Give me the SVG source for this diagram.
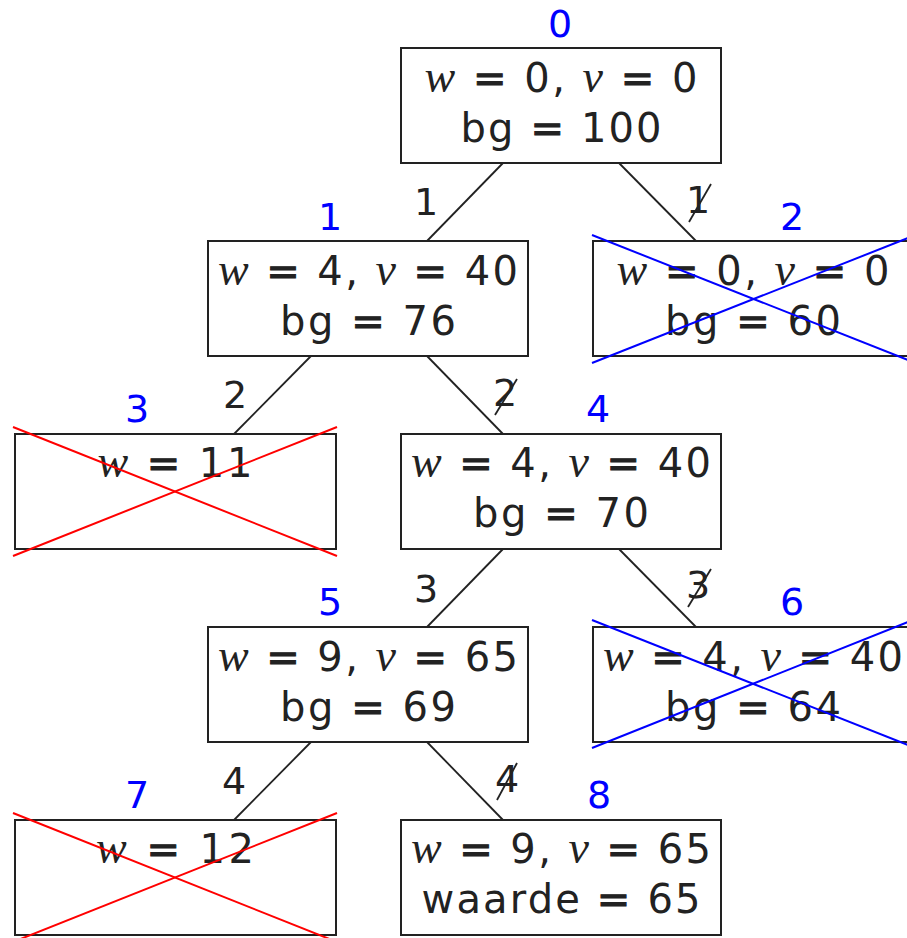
<svg xmlns="http://www.w3.org/2000/svg" width="907" height="938" viewBox="0 0 907 938">
<style>
  .box { fill: #ffffff; stroke: #222222; stroke-width: 2; }
  .t { font-family: "DejaVu Sans", "Liberation Sans", sans-serif; font-size: 40px; fill: #222222; text-anchor: middle; }
  .m { font-family: "Liberation Serif", "DejaVu Serif", serif; font-style: italic; font-size: 46px; }
  .eq { stroke: #222222; stroke-width: 1; }
  .id { font-family: "DejaVu Sans", "Liberation Sans", sans-serif; font-size: 38px; fill: #0000ff; text-anchor: middle; }
  .el { font-family: "DejaVu Sans", "Liberation Sans", sans-serif; font-size: 38px; fill: #222222; text-anchor: middle; }
  .edge { stroke: #222222; stroke-width: 1.8; fill: none; }
  .slash { stroke: #222222; stroke-width: 1.8; }
  .xr { stroke: #ff0000; stroke-width: 2; }
  .xb { stroke: #0000ff; stroke-width: 2; }
</style>
<rect width="907" height="938" fill="#ffffff"/>

<g id="connectors">
  <line class="edge" x1="503" y1="163" x2="427" y2="241"/>
  <line class="edge" x1="619" y1="163" x2="696" y2="241"/>
  <line class="edge" x1="311" y1="356" x2="234" y2="434"/>
  <line class="edge" x1="427" y1="356" x2="503" y2="434"/>
  <line class="edge" x1="503" y1="549" x2="427" y2="627"/>
  <line class="edge" x1="619" y1="549" x2="696" y2="627"/>
  <line class="edge" x1="311" y1="742" x2="234" y2="820"/>
  <line class="edge" x1="427" y1="742" x2="503" y2="820"/>
  <text class="el" x="426" y="215">1</text>
  <text class="el" x="698" y="213">1</text>
  <line class="slash" x1="689" y1="222" x2="711" y2="184"/>
  <text class="el" x="235" y="408">2</text>
  <text class="el" x="505" y="406">2</text>
  <line class="slash" x1="495" y1="415" x2="517" y2="379"/>
  <text class="el" x="426" y="602">3</text>
  <text class="el" x="698" y="598">3</text>
  <line class="slash" x1="688" y1="607" x2="711" y2="569"/>
  <text class="el" x="234" y="794">4</text>
  <text class="el" x="507" y="792">4</text>
  <line class="slash" x1="497" y1="800" x2="517" y2="763"/>
</g>

<g id="node0">
  <rect class="box" x="401" y="48" width="320" height="115"/>
  <text class="t" x="561" y="92" textLength="273" lengthAdjust="spacing"><tspan class="m">w</tspan> <tspan class="eq">=</tspan> 0, <tspan class="m">v</tspan> <tspan class="eq">=</tspan> 0</text>
  <text class="t" x="561" y="142" textLength="201" lengthAdjust="spacing">bg <tspan class="eq">=</tspan> 100</text>
  <text class="id" x="560" y="37">0</text>
</g>

<g id="node1">
  <rect class="box" x="208" y="241" width="320" height="115"/>
  <text class="t" x="368" y="285" textLength="300" lengthAdjust="spacing"><tspan class="m">w</tspan> <tspan class="eq">=</tspan> 4, <tspan class="m">v</tspan> <tspan class="eq">=</tspan> 40</text>
  <text class="t" x="368" y="335" textLength="176" lengthAdjust="spacing">bg <tspan class="eq">=</tspan> 76</text>
  <text class="id" x="330" y="230">1</text>
</g>

<g id="node2">
  <rect class="box" x="593" y="241" width="320" height="115"/>
  <text class="t" x="753" y="285" textLength="273" lengthAdjust="spacing"><tspan class="m">w</tspan> <tspan class="eq">=</tspan> 0, <tspan class="m">v</tspan> <tspan class="eq">=</tspan> 0</text>
  <text class="t" x="753" y="335" textLength="176" lengthAdjust="spacing">bg <tspan class="eq">=</tspan> 60</text>
  <text class="id" x="792" y="230">2</text>
  <line class="xb" x1="592" y1="235" x2="913" y2="362"/>
  <line class="xb" x1="592" y1="363" x2="913" y2="236"/>
</g>

<g id="node3">
  <rect class="box" x="15" y="434" width="321" height="115"/>
  <text class="t" x="175" y="477" textLength="155" lengthAdjust="spacing"><tspan class="m">w</tspan> <tspan class="eq">=</tspan> 11</text>
  <text class="id" x="137" y="422">3</text>
  <line class="xr" x1="13" y1="427" x2="337" y2="556"/>
  <line class="xr" x1="13" y1="556" x2="337" y2="427"/>
</g>

<g id="node4">
  <rect class="box" x="401" y="434" width="320" height="115"/>
  <text class="t" x="561" y="477" textLength="300" lengthAdjust="spacing"><tspan class="m">w</tspan> <tspan class="eq">=</tspan> 4, <tspan class="m">v</tspan> <tspan class="eq">=</tspan> 40</text>
  <text class="t" x="561" y="527" textLength="176" lengthAdjust="spacing">bg <tspan class="eq">=</tspan> 70</text>
  <text class="id" x="598" y="422">4</text>
</g>

<g id="node5">
  <rect class="box" x="208" y="627" width="320" height="115"/>
  <text class="t" x="368" y="671" textLength="300" lengthAdjust="spacing"><tspan class="m">w</tspan> <tspan class="eq">=</tspan> 9, <tspan class="m">v</tspan> <tspan class="eq">=</tspan> 65</text>
  <text class="t" x="368" y="721" textLength="176" lengthAdjust="spacing">bg <tspan class="eq">=</tspan> 69</text>
  <text class="id" x="330" y="615">5</text>
</g>

<g id="node6">
  <rect class="box" x="593" y="627" width="320" height="115"/>
  <text class="t" x="753" y="671" textLength="300" lengthAdjust="spacing"><tspan class="m">w</tspan> <tspan class="eq">=</tspan> 4, <tspan class="m">v</tspan> <tspan class="eq">=</tspan> 40</text>
  <text class="t" x="753" y="721" textLength="176" lengthAdjust="spacing">bg <tspan class="eq">=</tspan> 64</text>
  <text class="id" x="792" y="615">6</text>
  <line class="xb" x1="592" y1="620" x2="913" y2="747"/>
  <line class="xb" x1="592" y1="748" x2="913" y2="620"/>
</g>

<g id="node7">
  <rect class="box" x="15" y="820" width="321" height="115"/>
  <text class="t" x="175" y="863" textLength="158" lengthAdjust="spacing"><tspan class="m">w</tspan> <tspan class="eq">=</tspan> 12</text>
  <text class="id" x="137" y="808">7</text>
  <line class="xr" x1="13" y1="813" x2="337" y2="942"/>
  <line class="xr" x1="13" y1="942" x2="337" y2="813"/>
</g>

<g id="node8">
  <rect class="box" x="401" y="820" width="320" height="115"/>
  <text class="t" x="561" y="863" textLength="300" lengthAdjust="spacing"><tspan class="m">w</tspan> <tspan class="eq">=</tspan> 9, <tspan class="m">v</tspan> <tspan class="eq">=</tspan> 65</text>
  <text class="t" x="561" y="913" textLength="279" lengthAdjust="spacing">waarde <tspan class="eq">=</tspan> 65</text>
  <text class="id" x="599" y="808">8</text>
</g>
</svg>
